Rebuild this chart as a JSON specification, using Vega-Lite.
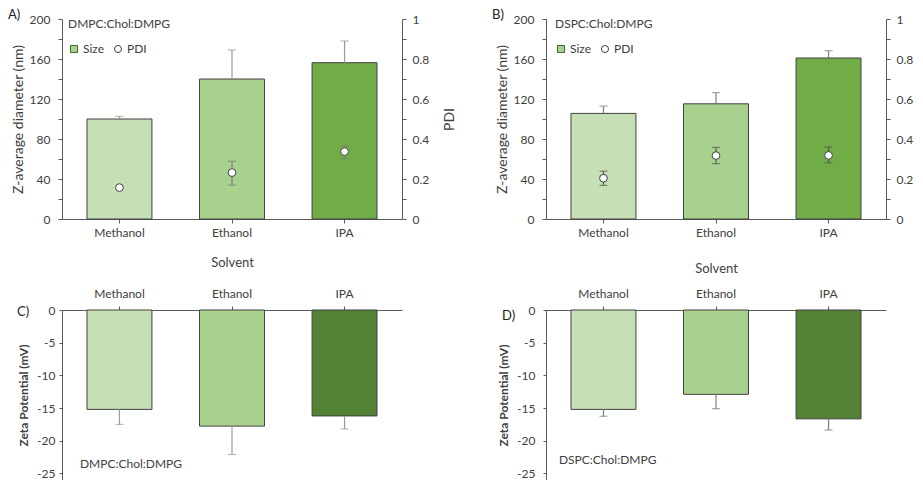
{
  "$schema": "https://vega.github.io/schema/vega-lite/v6.json",
  "padding": {"left": 8, "top": 9, "right": 0, "bottom": 0},
  "background": "white",
  "columns": 2,
  "spacing": {"column": 35, "row": 12},
  "resolve": {"scale": {"shape": "independent", "fill": "independent", "color": "independent", "stroke": "independent"}, "legend": {"shape": "independent", "fill": "independent", "stroke": "independent"}},
  "config": {
    "font": "Lato",
    "view": {"stroke": null},
    "axis": {"labelFont": "Lato", "labelFontSize": 12, "labelColor": "#404040", "titleFont": "Lato", "titleFontSize": 13, "titleFontWeight": "normal", "titleColor": "#404040", "domainColor": "#595959", "tickColor": "#595959", "grid": false, "tickSize": 4, "labelOverlap": false},
    "legend": {"orient": "none", "direction": "horizontal", "titleFontWeight": "normal", "titleFontSize": 12, "titleColor": "#404040", "titleFont": "Lato", "titlePadding": 12, "labelFont": "Lato", "labelFontSize": 12, "labelColor": "#404040", "symbolSize": 50, "symbolStrokeWidth": 1, "columnPadding": 8, "labelOffset": 3, "padding": 0},
    "title": {"font": "Lato", "fontSize": 13, "fontWeight": "normal", "color": "#222222"}
  },
  "concat": [
    {
      "title": {"text": "A)", "anchor": "start", "frame": "group", "orient": "top", "offset": 0, "baseline": "middle", "dx": -54, "dy": 15},
      "width": 340, "height": 200,
      "data": {"values": [
        {"solvent": "Methanol", "size": 100, "size_hi": 102.7, "pdi": 0.157, "pdi_lo": 0.155, "pdi_hi": 0.16},
        {"solvent": "Ethanol", "size": 140, "size_hi": 169, "pdi": 0.232, "pdi_lo": 0.169, "pdi_hi": 0.289},
        {"solvent": "IPA", "size": 156.3, "size_hi": 178, "pdi": 0.337, "pdi_lo": 0.304, "pdi_hi": 0.367}
      ]},
      "encoding": {"x": {"field": "solvent", "type": "nominal", "sort": ["Methanol", "Ethanol", "IPA"], "scale": {"paddingInner": 0.423, "paddingOuter": 0.222}, "axis": {"title": "Solvent", "labelAngle": 0, "labelPadding": 4, "titlePadding": 18}}},
      "layer": [
        {"layer": [
          {"mark": {"type": "bar", "stroke": "#404040", "strokeWidth": 1},
           "encoding": {
             "y": {"field": "size", "type": "quantitative", "title": "Z-average diameter (nm)", "scale": {"domain": [0, 200]}, "axis": {"values": [0, 20, 40, 60, 80, 100, 120, 140, 160, 180, 200], "tickCount": 50, "labelExpr": "datum.value % 40 == 0 ? datum.label : ''", "labelOverlap": false, "labelPadding": 8, "titlePadding": 4, "titleFontSize": 14}},
             "color": {"field": "solvent", "type": "nominal", "scale": {"domain": ["Methanol", "Ethanol", "IPA"], "range": ["#C5E0B4", "#A9D18E", "#70AD47"]}, "legend": null}}},
          {"mark": {"type": "rule", "color": "#9a9a9a", "strokeWidth": 1.2},
           "encoding": {"y": {"field": "size", "type": "quantitative", "title": "Z-average diameter (nm)"}, "y2": {"field": "size_hi"}}},
          {"mark": {"type": "tick", "color": "#9a9a9a", "size": 8, "thickness": 1.2},
           "encoding": {"y": {"field": "size_hi", "type": "quantitative", "title": "Z-average diameter (nm)"}}}
        ]},
        {"layer": [
          {"mark": {"type": "rule", "color": "#7f7f7f", "strokeWidth": 1.2},
           "encoding": {"y": {"field": "pdi_lo", "type": "quantitative", "title": "PDI", "scale": {"domain": [0, 1]}, "axis": {"orient": "right", "values": [0, 0.1, 0.2, 0.3, 0.4, 0.5, 0.6, 0.7, 0.8, 0.9, 1], "tickCount": 50, "labelExpr": "round(datum.value * 10) % 2 == 0 ? '' + datum.value : ''", "labelOverlap": false, "labelPadding": 6, "titlePadding": 28, "titleAngle": -90, "titleFontSize": 14}}, "y2": {"field": "pdi_hi"}}},
          {"mark": {"type": "tick", "color": "#7f7f7f", "size": 8, "thickness": 1.2},
           "encoding": {"y": {"field": "pdi_lo", "type": "quantitative", "title": "PDI"}}},
          {"mark": {"type": "tick", "color": "#7f7f7f", "size": 8, "thickness": 1.2},
           "encoding": {"y": {"field": "pdi_hi", "type": "quantitative", "title": "PDI"}}},
          {"mark": {"type": "point", "filled": true, "strokeWidth": 1, "size": 60, "opacity": 1},
           "encoding": {
             "y": {"field": "pdi", "type": "quantitative", "title": "PDI"},
             "fill": {"datum": "PDI", "type": "nominal", "scale": {"domain": ["Size", "PDI"], "range": ["#A9D18E", "#ffffff"]},
               "legend": {"legendX": 6, "legendY": 0, "title": "DMPC:Chol:DMPG"}},
             "stroke": {"datum": "PDI", "type": "nominal", "scale": {"domain": ["Size", "PDI"], "range": ["#3f6b2a", "#404040"]},
               "legend": {"legendX": 6, "legendY": 0, "title": "DMPC:Chol:DMPG"}},
             "shape": {"datum": "PDI", "type": "nominal", "scale": {"domain": ["Size", "PDI"], "range": ["square", "circle"]},
               "legend": {"legendX": 6, "legendY": 0, "title": "DMPC:Chol:DMPG"}}}}
        ]}
      ],
      "resolve": {"scale": {"y": "independent"}}
    },
    {
      "title": {"text": "B)", "anchor": "start", "frame": "group", "orient": "top", "offset": 0, "baseline": "middle", "dx": -54, "dy": 15},
      "width": 340, "height": 200,
      "data": {"values": [
        {"solvent": "Methanol", "size": 105.6, "size_hi": 112.9, "pdi": 0.204, "pdi_lo": 0.168, "pdi_hi": 0.239},
        {"solvent": "Ethanol", "size": 115.2, "size_hi": 126.4, "pdi": 0.317, "pdi_lo": 0.277, "pdi_hi": 0.358},
        {"solvent": "IPA", "size": 161, "size_hi": 168.3, "pdi": 0.318, "pdi_lo": 0.281, "pdi_hi": 0.36}
      ]},
      "encoding": {"x": {"field": "solvent", "type": "nominal", "sort": ["Methanol", "Ethanol", "IPA"], "scale": {"paddingInner": 0.423, "paddingOuter": 0.222}, "axis": {"title": "Solvent", "labelAngle": 0, "labelPadding": 4, "titlePadding": 24}}},
      "layer": [
        {"layer": [
          {"mark": {"type": "bar", "stroke": "#404040", "strokeWidth": 1},
           "encoding": {
             "y": {"field": "size", "type": "quantitative", "title": "Z-average diameter (nm)", "scale": {"domain": [0, 200]}, "axis": {"values": [0, 20, 40, 60, 80, 100, 120, 140, 160, 180, 200], "tickCount": 50, "labelExpr": "datum.value % 40 == 0 ? datum.label : ''", "labelOverlap": false, "labelPadding": 8, "titlePadding": 4, "titleFontSize": 14}},
             "color": {"field": "solvent", "type": "nominal", "scale": {"domain": ["Methanol", "Ethanol", "IPA"], "range": ["#C5E0B4", "#A9D18E", "#70AD47"]}, "legend": null}}},
          {"mark": {"type": "rule", "color": "#7f7f7f", "strokeWidth": 1.2},
           "encoding": {"y": {"field": "size", "type": "quantitative", "title": "Z-average diameter (nm)"}, "y2": {"field": "size_hi"}}},
          {"mark": {"type": "tick", "color": "#7f7f7f", "size": 8, "thickness": 1.2},
           "encoding": {"y": {"field": "size_hi", "type": "quantitative", "title": "Z-average diameter (nm)"}}}
        ]},
        {"layer": [
          {"mark": {"type": "rule", "color": "#595959", "strokeWidth": 1.2},
           "encoding": {"y": {"field": "pdi_lo", "type": "quantitative", "title": "PDI", "scale": {"domain": [0, 1]}, "axis": {"orient": "right", "values": [0, 0.1, 0.2, 0.3, 0.4, 0.5, 0.6, 0.7, 0.8, 0.9, 1], "tickCount": 50, "labelExpr": "round(datum.value * 10) % 2 == 0 ? '' + datum.value : ''", "labelOverlap": false, "labelPadding": 6, "titlePadding": 28, "titleAngle": -90, "titleFontSize": 14}}, "y2": {"field": "pdi_hi"}}},
          {"mark": {"type": "tick", "color": "#595959", "size": 8, "thickness": 1.2},
           "encoding": {"y": {"field": "pdi_lo", "type": "quantitative", "title": "PDI"}}},
          {"mark": {"type": "tick", "color": "#595959", "size": 8, "thickness": 1.2},
           "encoding": {"y": {"field": "pdi_hi", "type": "quantitative", "title": "PDI"}}},
          {"mark": {"type": "point", "filled": true, "strokeWidth": 1, "size": 60, "opacity": 1},
           "encoding": {
             "y": {"field": "pdi", "type": "quantitative", "title": "PDI"},
             "fill": {"datum": "PDI", "type": "nominal", "scale": {"domain": ["Size", "PDI"], "range": ["#A9D18E", "#ffffff"]},
               "legend": {"legendX": 9, "legendY": 0, "title": "DSPC:Chol:DMPG"}},
             "stroke": {"datum": "PDI", "type": "nominal", "scale": {"domain": ["Size", "PDI"], "range": ["#3f6b2a", "#404040"]},
               "legend": {"legendX": 9, "legendY": 0, "title": "DSPC:Chol:DMPG"}},
             "shape": {"datum": "PDI", "type": "nominal", "scale": {"domain": ["Size", "PDI"], "range": ["square", "circle"]},
               "legend": {"legendX": 9, "legendY": 0, "title": "DSPC:Chol:DMPG"}}}}
        ]}
      ],
      "resolve": {"scale": {"y": "independent"}}
    },
    {
      "title": {"text": "C)", "anchor": "start", "frame": "group", "orient": "top", "offset": 0, "baseline": "middle", "dx": -45, "dy": 38},
      "width": 340, "height": 170,
      "data": {"values": [
        {"solvent": "Methanol", "zeta": -15.2, "zeta_lo": -17.5},
        {"solvent": "Ethanol", "zeta": -17.76, "zeta_lo": -22.1},
        {"solvent": "IPA", "zeta": -16.2, "zeta_lo": -18.2}
      ]},
      "encoding": {"x": {"field": "solvent", "type": "nominal", "sort": ["Methanol", "Ethanol", "IPA"], "scale": {"paddingInner": 0.423, "paddingOuter": 0.222}, "axis": {"orient": "top", "title": null, "labelAngle": 0, "labelPadding": 6}}},
      "layer": [
        {"mark": {"type": "bar", "stroke": "#404040", "strokeWidth": 1},
         "encoding": {
           "y": {"field": "zeta", "type": "quantitative", "title": "Zeta Potential (mV)", "scale": {"domain": [-25, 0]}, "axis": {"values": [-25, -20, -15, -10, -5, 0], "tickCount": 50, "labelExpr": "'' + datum.value", "labelOverlap": false, "tickSize": 3, "labelPadding": 4, "titlePadding": 6, "titleFontWeight": "bold", "titleFontSize": 12}},
           "color": {"field": "solvent", "type": "nominal", "scale": {"domain": ["Methanol", "Ethanol", "IPA"], "range": ["#C5E0B4", "#A9D18E", "#548235"]}, "legend": null}}},
        {"mark": {"type": "rule", "color": "#9a9a9a", "strokeWidth": 1.2},
         "encoding": {"y": {"field": "zeta", "type": "quantitative", "title": "Zeta Potential (mV)"}, "y2": {"field": "zeta_lo"}}},
        {"mark": {"type": "tick", "color": "#9a9a9a", "size": 8, "thickness": 1.2},
         "encoding": {"y": {"field": "zeta_lo", "type": "quantitative", "title": "Zeta Potential (mV)"}}},
        {"data": {"values": [{"label": "DMPC:Chol:DMPG"}]},
         "mark": {"type": "text", "align": "left", "baseline": "middle", "dx": -7, "fontSize": 12, "fontWeight": "normal", "font": "Lato", "color": "#404040"},
         "encoding": {"x": {"datum": "Methanol", "type": "nominal", "bandPosition": 0}, "y": {"datum": -23.5, "type": "quantitative"}, "text": {"field": "label"}}}
      ]
    },
    {
      "title": {"text": "D)", "anchor": "start", "frame": "group", "orient": "top", "offset": 0, "baseline": "middle", "dx": -44, "dy": 42},
      "width": 340, "height": 170,
      "data": {"values": [
        {"solvent": "Methanol", "zeta": -15.2, "zeta_lo": -16.25},
        {"solvent": "Ethanol", "zeta": -12.9, "zeta_lo": -15.1},
        {"solvent": "IPA", "zeta": -16.65, "zeta_lo": -18.35}
      ]},
      "encoding": {"x": {"field": "solvent", "type": "nominal", "sort": ["Methanol", "Ethanol", "IPA"], "scale": {"paddingInner": 0.423, "paddingOuter": 0.222}, "axis": {"orient": "top", "title": null, "labelAngle": 0, "labelPadding": 6}}},
      "layer": [
        {"mark": {"type": "bar", "stroke": "#404040", "strokeWidth": 1},
         "encoding": {
           "y": {"field": "zeta", "type": "quantitative", "title": "Zeta Potential (mV)", "scale": {"domain": [-25, 0]}, "axis": {"values": [-25, -20, -15, -10, -5, 0], "tickCount": 50, "labelExpr": "'' + datum.value", "labelOverlap": false, "tickSize": 3, "labelPadding": 8, "titlePadding": 6, "titleFontWeight": "bold", "titleFontSize": 12}},
           "color": {"field": "solvent", "type": "nominal", "scale": {"domain": ["Methanol", "Ethanol", "IPA"], "range": ["#C5E0B4", "#A9D18E", "#548235"]}, "legend": null}}},
        {"mark": {"type": "rule", "color": "#7f7f7f", "strokeWidth": 1.2},
         "encoding": {"y": {"field": "zeta", "type": "quantitative", "title": "Zeta Potential (mV)"}, "y2": {"field": "zeta_lo"}}},
        {"mark": {"type": "tick", "color": "#7f7f7f", "size": 8, "thickness": 1.2},
         "encoding": {"y": {"field": "zeta_lo", "type": "quantitative", "title": "Zeta Potential (mV)"}}},
        {"data": {"values": [{"label": "DSPC:Chol:DMPG"}]},
         "mark": {"type": "text", "align": "left", "baseline": "middle", "dx": -12, "fontSize": 12, "fontWeight": "normal", "font": "Lato", "color": "#404040"},
         "encoding": {"x": {"datum": "Methanol", "type": "nominal", "bandPosition": 0}, "y": {"datum": -22.9, "type": "quantitative"}, "text": {"field": "label"}}}
      ]
    }
  ]
}
